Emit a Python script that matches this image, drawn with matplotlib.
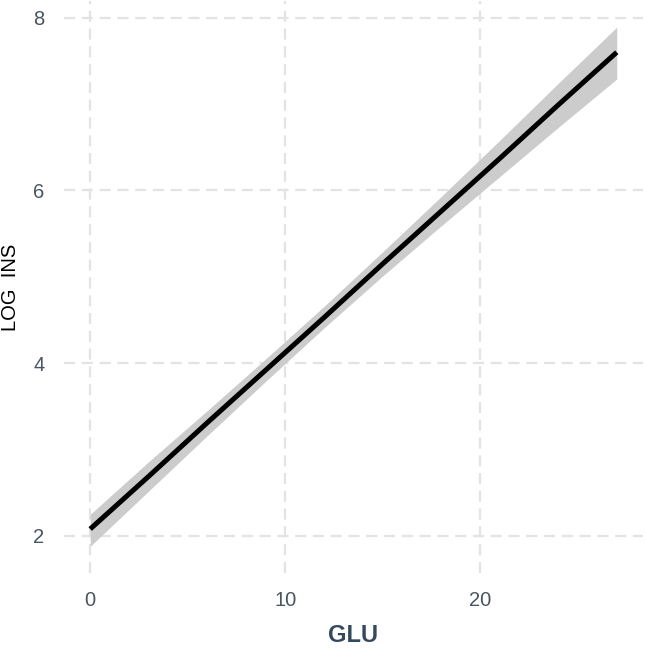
import numpy as np
import matplotlib.pyplot as plt

# fitted line and confidence band
glu = [0, 3, 6, 9, 12, 15, 18, 21, 24, 27]
log_ins = [2.08, 2.69, 3.31, 3.92, 4.53, 5.15, 5.76, 6.37, 6.99, 7.60]
ci_low = [1.88, 2.52, 3.16, 3.79, 4.41, 5.01, 5.59, 6.16, 6.73, 7.29]
ci_high = [2.25, 2.86, 3.45, 4.05, 4.66, 5.29, 5.93, 6.58, 7.24, 7.89]

x_ticks = [0, 10, 20]
y_ticks = [2, 4, 6, 8]

plt.rcParams['font.family'] = ['Liberation Sans', 'DejaVu Sans']

fig = plt.figure(figsize=(6.45, 6.49), dpi=100)
ax = fig.add_axes([0.099, 0.117, 0.898, 0.881])

ax.fill_between(glu, ci_low, ci_high, color='#cccccc', linewidth=0, zorder=2)
ax.plot(glu, log_ins, color='black', linewidth=3.6, solid_capstyle='butt', zorder=3)

ax.set_xlim(-1.35, 28.35)
ax.set_ylim(1.57, 8.19)
ax.set_xticks(x_ticks)
ax.set_yticks(y_ticks)

ax.grid(True, color='#e3e3e3', linewidth=1.6, linestyle=(0, (5, 3)), zorder=0)
ax.set_axisbelow(True)
for s in ax.spines.values():
    s.set_visible(False)
ax.tick_params(length=0, labelsize=14.5, labelcolor='#4a5562')
ax.tick_params(axis='x', pad=13)
ax.tick_params(axis='y', pad=14)

ax.set_xlabel('GLU', fontsize=17, fontweight='bold', color='#34495e', labelpad=10)
ax.set_ylabel('LOG  INS', fontsize=14.5, color='black')
ax.yaxis.set_label_coords(-0.076, 0.5)

fig.savefig('out.png', dpi=100)
